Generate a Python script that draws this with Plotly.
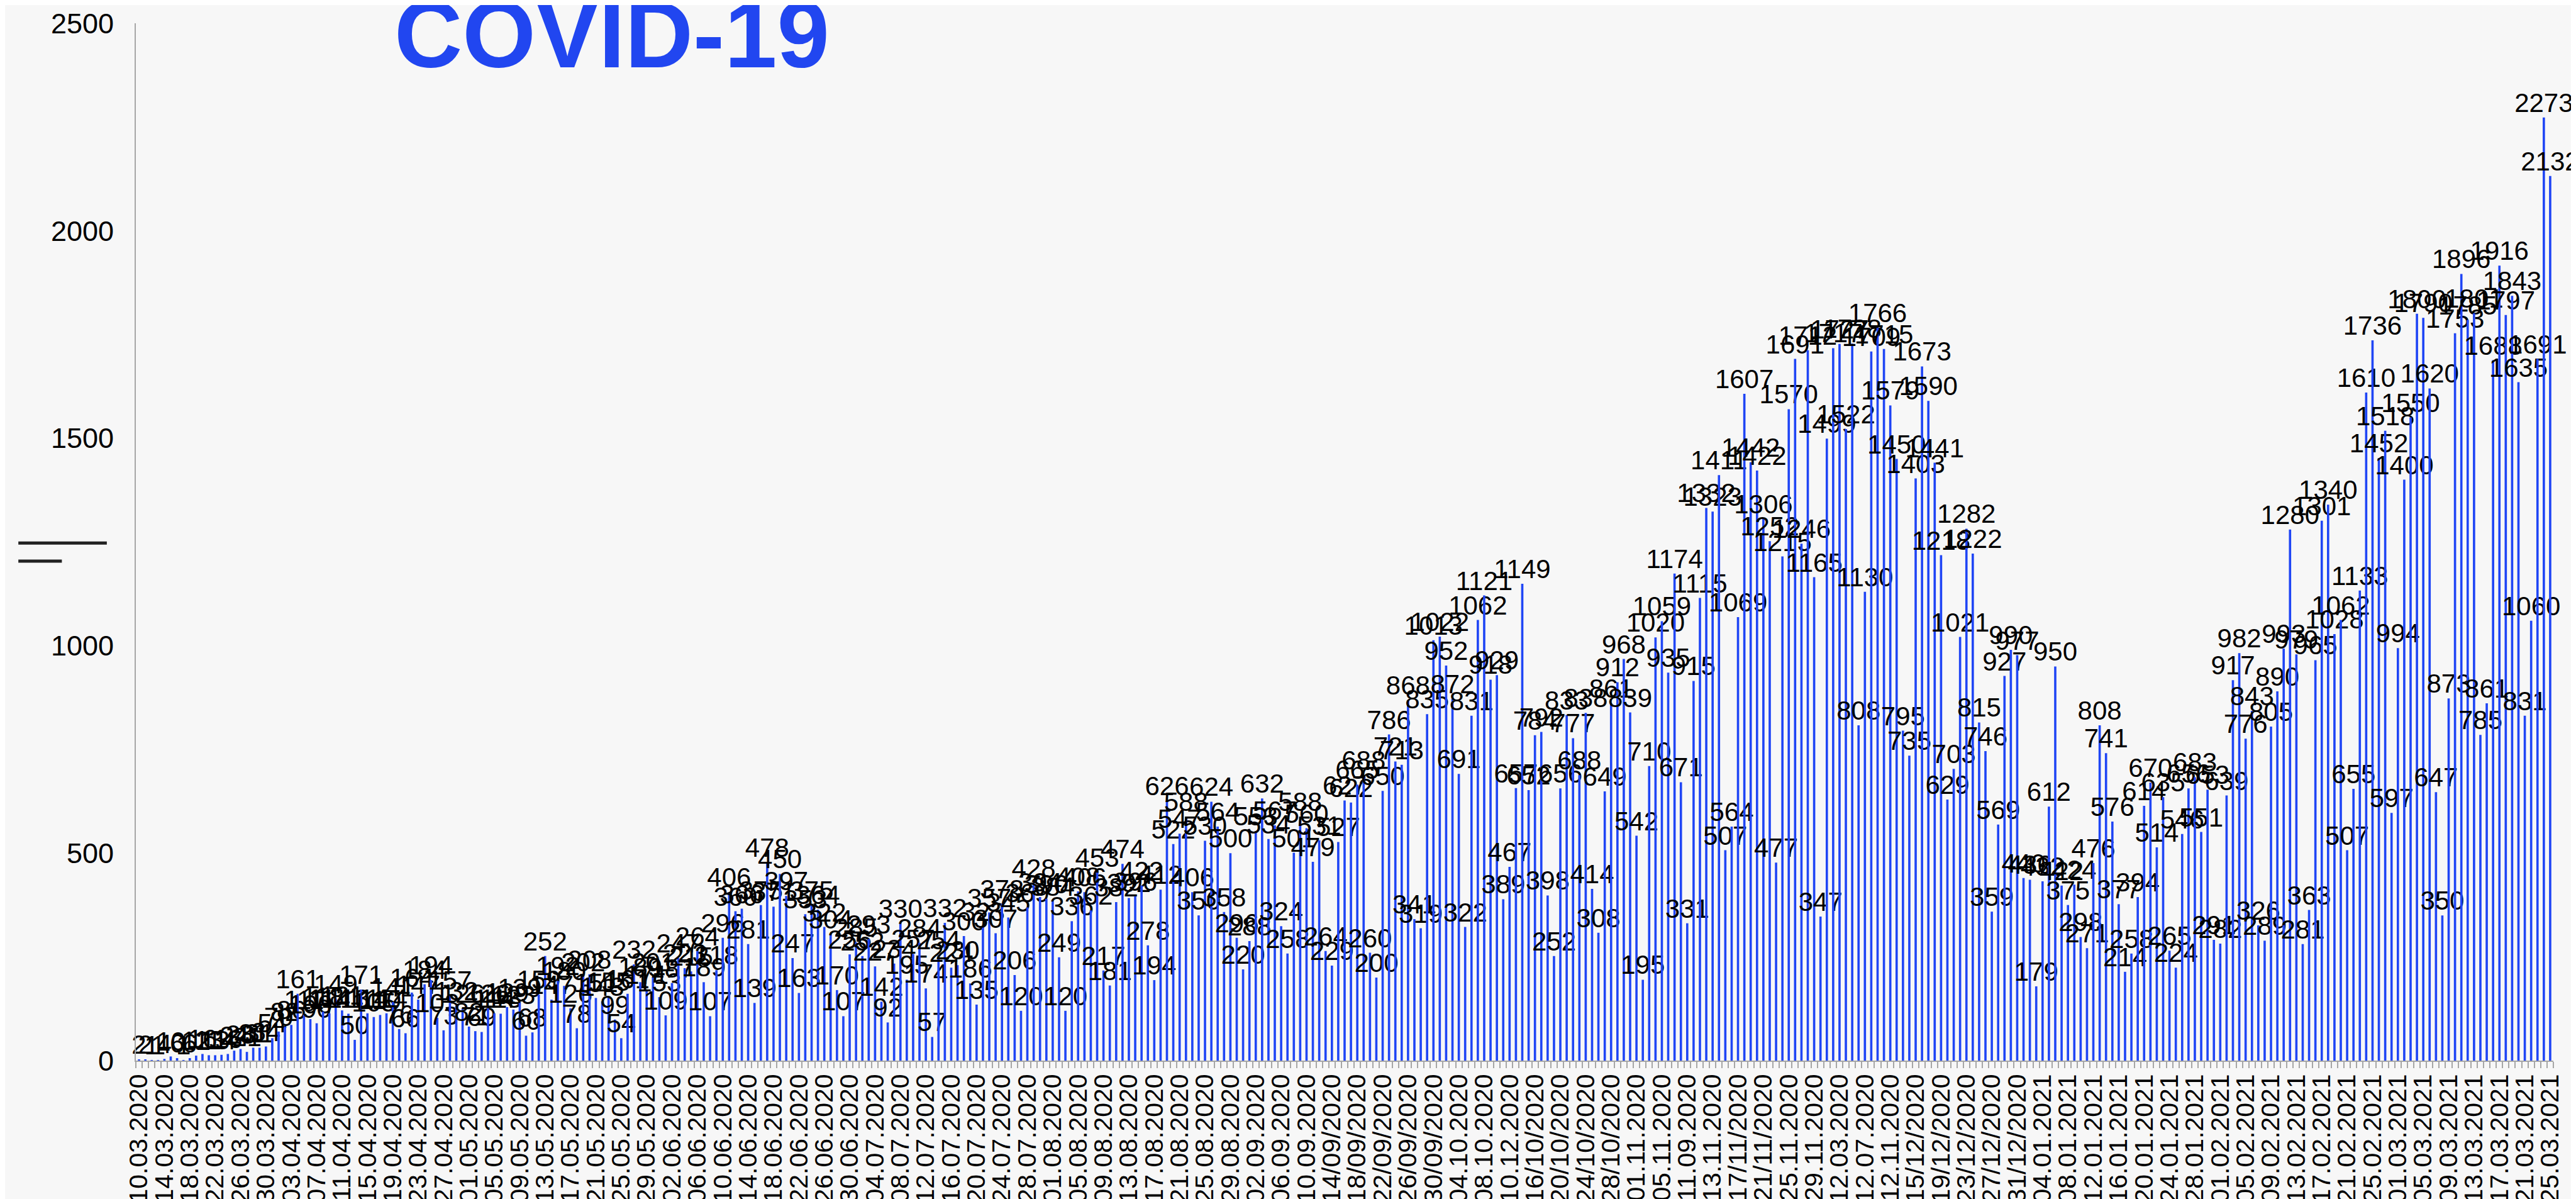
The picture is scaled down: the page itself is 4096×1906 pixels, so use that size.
import plotly.graph_objects as go

# Daily new COVID-19 cases, 10.03.2020 .. 25.03.2021 (one value per day)
cases_mar_apr_2020 = [2, 2, 1, 1, 4, 10, 6, 1, 6, 12, 16, 13, 13, 14, 16, 24, 28, 21, 31, 31,
                      34, 54, 70, 82, 86, 161, 111, 100, 90, 118, 114, 149]
cases_apr_may_2020 = [121, 113, 50, 171, 114, 105, 110, 114, 141, 76, 66, 164, 147, 184, 194, 103,
                      73, 157, 132, 126, 82, 71, 69, 126, 114, 113, 129, 123, 139, 60, 68, 159]
cases_may_jun_2020 = [252, 147, 192, 180, 126, 78, 202, 208, 151, 143, 155, 99, 54, 161, 232, 189,
                      171, 201, 153, 109, 187, 247, 223, 215, 264, 189, 107, 218, 296, 406, 360]
cases_jun_jul_2020 = [366, 281, 139, 375, 478, 371, 450, 397, 247, 163, 353, 375, 364, 322, 304, 170,
                      107, 256, 285, 252, 293, 227, 142, 92, 234, 330, 195, 257, 284, 174, 57, 254]
cases_jul_aug_2020 = [332, 224, 230, 300, 186, 135, 323, 357, 307, 378, 345, 206, 120, 369, 428, 394,
                      390, 384, 249, 120, 336, 408, 406, 362, 453, 217, 181, 382, 474, 392, 396]
cases_aug_sep_2020 = [422, 278, 194, 412, 626, 522, 547, 588, 406, 350, 530, 624, 564, 358, 500, 296,
                      220, 288, 553, 632, 534, 567, 324, 258, 501, 588, 560, 479, 531, 264, 229, 527]
cases_sep_oct_2020 = [627, 622, 665, 688, 260, 200, 650, 786, 721, 713, 868, 341, 319, 835, 1013, 1022,
                      952, 872, 691, 322, 831, 1062, 1121, 918, 929, 389, 467, 657, 1149, 652, 784, 792]
cases_oct_nov_2020 = [398, 252, 656, 833, 777, 688, 838, 414, 308, 649, 861, 912, 968, 839, 542, 195,
                      710, 1020, 1059, 935, 1174, 671, 331, 915, 1115, 1332, 1323, 1411, 507, 564, 1069, 1607]
cases_nov_dec_2020 = [1442, 1422, 1306, 1252, 477, 1215, 1570, 1691, 1246, 1712, 1165, 347, 1499, 1717,
                      1727, 1522, 1728, 808, 1130, 1709, 1766, 1715, 1579, 1450, 795, 735, 1403, 1673,
                      1590, 1441, 1218, 629]
cases_dec_jan_2021 = [703, 1021, 1282, 1222, 815, 746, 359, 569, 927, 990, 977, 440, 436, 179, 432, 612,
                      950, 422, 375, 424, 298, 271, 476, 808, 741, 576, 377, 214, 258, 394, 614, 670]
cases_jan_feb_2021 = [514, 635, 265, 224, 546, 656, 683, 551, 653, 291, 282, 639, 917, 982, 776, 843,
                      326, 289, 805, 890, 993, 1280, 979, 281, 363, 965, 1301, 1340, 1028, 1062, 507, 655]
cases_feb_mar_2021 = [1133, 1610, 1736, 1452, 1518, 597, 994, 1400, 1550, 1800, 1790, 1620, 647, 350,
                      873, 1753, 1896, 1785, 1801, 785, 861, 1688, 1916, 1797, 1843, 1635, 831, 1060,
                      1691, 2273, 2132]

daily_cases = (cases_mar_apr_2020 + cases_apr_may_2020 + cases_may_jun_2020 + cases_jun_jul_2020
               + cases_jul_aug_2020 + cases_aug_sep_2020 + cases_sep_oct_2020 + cases_oct_nov_2020
               + cases_nov_dec_2020 + cases_dec_jan_2021 + cases_jan_feb_2021 + cases_feb_mar_2021)

# x tick labels, one every 4 days (as printed in the original)
tick_labels = [
    "10.03.2020", "14.03.2020", "18.03.2020", "22.03.2020", "26.03.2020", "30.03.2020",
    "03.04.2020", "07.04.2020", "11.04.2020", "15.04.2020", "19.04.2020", "23.04.2020",
    "27.04.2020", "01.05.2020", "05.05.2020", "09.05.2020", "13.05.2020", "17.05.2020",
    "21.05.2020", "25.05.2020", "29.05.2020", "02.06.2020", "06.06.2020", "10.06.2020",
    "14.06.2020", "18.06.2020", "22.06.2020", "26.06.2020", "30.06.2020", "04.07.2020",
    "08.07.2020", "12.07.2020", "16.07.2020", "20.07.2020", "24.07.2020", "28.07.2020",
    "01.08.2020", "05.08.2020", "09.08.2020", "13.08.2020", "17.08.2020", "21.08.2020",
    "25.08.2020", "29.08.2020", "02.09.2020", "06.09.2020", "10.09.2020", "14/09/2020",
    "18/09/2020", "22/09/2020", "26/09/2020", "30/09/2020", "04.10.2020", "08.10.2020",
    "10.12.2020", "16/10/2020", "20/10/2020", "24/10/2020", "28/10/2020", "01.11.2020",
    "05.11.2020", "11.09.2020", "13.11.2020", "17/11/2020", "21/11/2020", "25.11.2020",
    "29.11.2020", "12.03.2020", "12.07.2020", "12.11.2020", "15/12/2020", "19/12/2020",
    "23/12/2020", "27/12/2020", "31/12/2020", "04.01.2021", "08.01.2021", "12.01.2021",
    "16.01.2021", "20.01.2021", "24.01.2021", "28.01.2021", "01.02.2021", "05.02.2021",
    "09.02.2021", "13.02.2021", "17.02.2021", "21.02.2021", "25.02.2021", "01.03.2021",
    "05.03.2021", "09.03.2021", "13.03.2021", "17.03.2021", "21.03.2021", "25.03.2021",
]
tick_step = 4
y_ticks = [0, 500, 1000, 1500, 2000, 2500]
title_text = "COVID-19"

day_index = list(range(len(daily_cases)))
tick_positions = [k * tick_step for k in range(len(tick_labels))]

FONT = "Liberation Sans, Arial, sans-serif"
BAR_BLUE = "#1f45f5"
BG = "#f7f7f7"
AXIS_GREY = "#a6a6a6"

fig = go.Figure()
fig.add_trace(go.Bar(
    x=day_index,
    y=daily_cases,
    text=[str(v) for v in daily_cases],
    textposition="outside",
    textangle=0,
    constraintext="none",
    cliponaxis=False,
    outsidetextfont=dict(family=FONT, size=42, color="#000000"),
    marker=dict(color=BAR_BLUE, line=dict(width=0)),
    width=0.36,
    hoverinfo="x+y",
))

fig.update_layout(
    width=4096, height=1906, autosize=False,
    paper_bgcolor=BG, plot_bgcolor=BG,
    margin=dict(l=208, r=44, t=29, b=228, pad=0),
    showlegend=False,
    font=dict(family=FONT, color="#000000"),
    bargap=0.6,
)

fig.update_xaxes(
    range=[-0.5, len(daily_cases) - 0.5],
    tickmode="array", tickvals=tick_positions, ticktext=tick_labels,
    tickangle=-90, tickfont=dict(family=FONT, size=41, color="#000000"),
    ticks="", ticklabelstandoff=3, automargin=False,
    minor=dict(ticks="outside", tickmode="linear", tick0=-0.5, dtick=1,
               ticklen=10, tickwidth=2, tickcolor=AXIS_GREY, showgrid=False),
    showline=True, linecolor=AXIS_GREY, linewidth=2,
    showgrid=False, zeroline=False,
)
fig.update_yaxes(
    range=[0, 2500], tickmode="array", tickvals=y_ticks,
    tickfont=dict(family=FONT, size=45, color="#000000"),
    ticks="", ticklabelstandoff=24, automargin=False,
    showline=True, linecolor=AXIS_GREY, linewidth=2,
    showgrid=False, zeroline=False,
)

# Title
fig.add_annotation(
    text="<b>" + title_text + "</b>", xref="paper", yref="paper",
    x=0.1064, y=0.9890, xanchor="left", yanchor="middle", showarrow=False,
    font=dict(family=FONT, size=150, color="#2146f0"),
)

# Small legend-like strokes on the left edge
fig.add_shape(type="line", xref="paper", yref="paper",
              x0=-0.0486, x1=-0.0120, y0=0.4990, y1=0.4990,
              line=dict(color="#222222", width=5))
fig.add_shape(type="line", xref="paper", yref="paper",
              x0=-0.0486, x1=-0.0306, y0=0.4815, y1=0.4815,
              line=dict(color="#222222", width=5))

fig.write_html("out.html")
